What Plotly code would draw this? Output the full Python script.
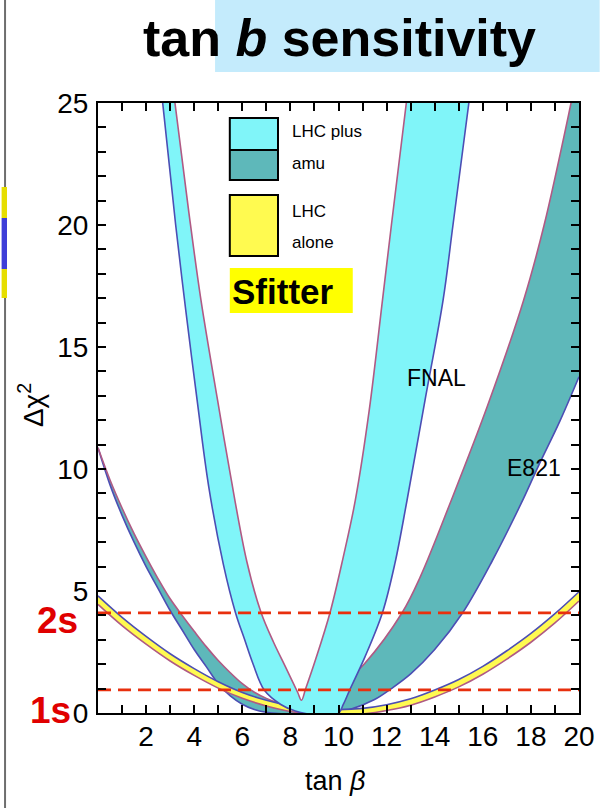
import plotly.graph_objects as go

# ---------------- data ----------------
X_TICKS = list(range(0, 21))
X_TICK_TEXT = ["", "", "2", "", "4", "", "6", "", "8", "", "10", "", "12", "", "14", "", "16", "", "18", "", "20"]
Y_TICKS = list(range(0, 26))
Y_TICK_TEXT = ["0", "", "", "", "", "5", "", "", "", "", "10", "", "", "", "", "15", "", "", "", "", "20", "", "", "", "", "25"]

# E821 band (teal): lower (blue) and upper (pink) edges
E821_LOW_X = [0.0, 0.5, 1.0, 1.5, 2.0, 2.5, 3.0, 3.5, 4.0, 4.5, 5.0, 5.5, 6.0, 6.5, 7.0, 7.5, 8.5, 9.5,
              10.5, 11.5, 12.2, 13.0, 14.0, 15.17, 16.4, 17.6, 18.3, 19.2, 20.0]
E821_LOW_Y = [10.87, 9.35, 8.1, 7.0, 6.0, 5.1, 4.2, 3.4, 2.6, 1.9, 1.2, 0.7, 0.36, 0.14, 0.03, -0.02, -0.05, -0.05,
              0.15, 0.55, 1.0, 1.6, 2.6, 4.12, 6.25, 8.6, 10.1, 11.95, 13.78]
E821_UP_X = [0.0, 0.5, 1.0, 1.5, 2.0, 2.5, 3.0, 3.5, 4.0, 4.5, 5.0, 5.5, 6.0, 6.5, 7.0, 7.5, 8.0, 8.5, 9.5,
             10.3, 11.08, 12.65, 13.4, 14.69, 16.2, 17.7, 18.55, 19.67, 20.0]
E821_UP_Y = [10.87, 9.55, 8.4, 7.35, 6.4, 5.5, 4.68, 4.0, 3.35, 2.72, 2.15, 1.65, 1.2, 0.85, 0.6, 0.42, 0.32, 0.3, 0.7,
             1.3, 2.02, 4.12, 5.58, 8.72, 12.6, 16.93, 20.0, 25.0, 26.6]

# LHC alone band (yellow): lower (pink) and upper (blue) edges
LHC_X = [0, 1, 2, 3, 4, 5, 6, 7, 8, 9, 10, 11, 12, 13, 14, 15, 16, 17, 18, 19, 20]
LHC_UP_Y = [4.80, 3.92, 3.14, 2.43, 1.82, 1.28, 0.84, 0.52, 0.29, 0.17, 0.14, 0.19, 0.34, 0.58, 0.94, 1.37, 1.91, 2.55, 3.26, 4.07, 4.97]
LHC_LOW_Y = [4.45, 3.58, 2.82, 2.13, 1.54, 1.02, 0.60, 0.29, 0.06, -0.06, -0.09, -0.04, 0.10, 0.32, 0.66, 1.07, 1.59, 2.21, 2.90, 3.69, 4.59]

# FNAL band (cyan): outer (blue) and inner (pink) edges
FNAL_OUT_X = [2.69, 3.23, 3.65, 4.12, 4.6, 5.21, 5.72, 6.1, 6.44, 6.92, 7.6, 8.2, 8.8, 9.4, 9.99, 10.2, 10.46,
              11.1, 11.83, 12.35, 12.85, 13.6, 14.35, 14.76, 15.42]
FNAL_OUT_Y = [25.0, 20.0, 16.5, 12.83, 9.3, 6.1, 4.1, 3.0, 2.03, 0.93, 0.35, 0.08, -0.05, -0.08, -0.02, 0.35, 0.93,
              2.3, 4.12, 6.15, 8.72, 12.83, 16.93, 20.0, 25.0]
FNAL_IN_X = [3.2, 3.78, 4.28, 4.97, 5.48, 6.19, 6.78, 7.3, 7.8, 8.3, 8.46, 8.63, 9.05, 9.65, 10.2, 10.7, 11.28, 11.83, 12.2, 12.82]
FNAL_IN_Y = [25.0, 20.5, 16.93, 12.83, 9.9, 6.2, 4.12, 2.9, 1.88, 0.85, 0.52, 0.98, 2.2, 4.12, 6.4, 8.72, 12.42, 16.93, 20.0, 25.0]

SIGMA_LEVELS = [0.95, 4.1]
SIGMA_LABELS = ["1s", "2s"]
LEGEND_LABELS = ["LHC plus", "amu", "LHC", "alone"]
BAND_LABELS = ["FNAL", "E821"]

# ---------------- styling / layout ----------------
FIG_W, FIG_H = 607, 808
L, R, T, B = 98, 587, 103, 713          # plot area in pixels
PW, PH = R - L, B - T

def px(x):
    return (x - L) / PW

def py(y):
    return (B - y) / PH

CYAN = "#80F5F9"
TEAL = "#5EB8BA"
YELLOW = "#FFFA50"
BLUE = "#4C4EB4"
PINK = "#B05A84"
RED = "#E8300E"
FONT = "Liberation Sans, Arial, sans-serif"

fig = go.Figure()

def band(xl, yl, xu, yu, fill, col_l, col_u, shape="spline"):
    fig.add_trace(go.Scatter(x=xl, y=yl, mode="lines", line=dict(color=col_l, width=1.6, shape=shape),
                             hoverinfo="skip", showlegend=False))
    fig.add_trace(go.Scatter(x=xu, y=yu, mode="lines", fill="tonexty", fillcolor=fill,
                             line=dict(color=col_u, width=1.6, shape=shape),
                             hoverinfo="skip", showlegend=False))

band(E821_LOW_X, E821_LOW_Y, E821_UP_X, E821_UP_Y, TEAL, BLUE, PINK)
band(LHC_X, LHC_LOW_Y, LHC_X, LHC_UP_Y, YELLOW, PINK, BLUE)
band(FNAL_OUT_X, FNAL_OUT_Y, FNAL_IN_X, FNAL_IN_Y, CYAN, BLUE, PINK)

for lvl in SIGMA_LEVELS:
    fig.add_trace(go.Scatter(x=[0, 20], y=[lvl, lvl], mode="lines",
                             line=dict(color=RED, width=2.8, dash="13px,7px"),
                             hoverinfo="skip", showlegend=False))

axis_common = dict(showline=True, linecolor="black", linewidth=2, mirror="allticks",
                   ticks="inside", ticklen=8, tickwidth=1.5, tickcolor="black",
                   showgrid=False, zeroline=False, tickmode="array",
                   tickfont=dict(family=FONT, size=28, color="black"))

fig.update_xaxes(range=[0, 20], tickvals=X_TICKS, ticktext=X_TICK_TEXT, ticklabelstandoff=-3, **axis_common)
fig.update_yaxes(range=[0, 25], tickvals=Y_TICKS, ticktext=Y_TICK_TEXT, ticklabelstandoff=2, **axis_common)

shapes = []
# title highlight
shapes.append(dict(type="rect", xref="paper", yref="paper", x0=px(217), x1=px(608), y0=py(72), y1=py(-1),
                   fillcolor="#C4EBFC", line=dict(width=0), layer="below"))
# left slide edge
shapes.append(dict(type="line", xref="paper", yref="paper", x0=px(3.5), x1=px(3.5), y0=py(809), y1=py(-1),
                   line=dict(color="#6E6E6E", width=2)))
for (y0, y1, c) in [(187, 218, "#E6DE00"), (218, 269, "#3E3ED8"), (269, 298, "#E6DE00")]:
    shapes.append(dict(type="rect", xref="paper", yref="paper", x0=px(0), x1=px(5.5), y0=py(y1), y1=py(y0),
                       fillcolor=c, line=dict(width=0)))
# legend swatches
shapes.append(dict(type="rect", xref="paper", yref="paper", x0=px(232), x1=px(281), y0=py(150), y1=py(118),
                   fillcolor=CYAN, line=dict(width=0)))
shapes.append(dict(type="rect", xref="paper", yref="paper", x0=px(232), x1=px(281), y0=py(180), y1=py(150),
                   fillcolor=TEAL, line=dict(width=0)))
shapes.append(dict(type="line", xref="paper", yref="paper", x0=px(232), x1=px(281), y0=py(150), y1=py(150),
                   line=dict(color="black", width=2)))
shapes.append(dict(type="rect", xref="paper", yref="paper", x0=px(232), x1=px(281), y0=py(180), y1=py(118),
                   fillcolor="rgba(0,0,0,0)", line=dict(color="black", width=2)))
shapes.append(dict(type="rect", xref="paper", yref="paper", x0=px(232), x1=px(281), y0=py(256), y1=py(195),
                   fillcolor=YELLOW, line=dict(color="black", width=2)))
shapes.append(dict(type="rect", xref="paper", yref="paper", x0=px(232), x1=px(357), y0=py(313), y1=py(268),
                   fillcolor="#FFFF00", line=dict(width=0)))

ann = []
ann.append(dict(text="<b>tan <i>b</i> sensitivity</b>", x=px(344), y=py(38), xref="paper", yref="paper",
                showarrow=False, xanchor="center", yanchor="middle",
                font=dict(family=FONT, size=52, color="black")))
for txt, yy in zip(LEGEND_LABELS, [132, 163, 211, 242]):
    ann.append(dict(text=txt, x=px(293), y=py(yy), xref="paper", yref="paper", showarrow=False,
                    xanchor="left", yanchor="middle", font=dict(family=FONT, size=17, color="black")))
ann.append(dict(text="<b>Sfitter</b>", x=px(232), y=py(291), xref="paper", yref="paper", showarrow=False,
                xanchor="left", yanchor="middle", font=dict(family=FONT, size=35, color="black")))
for txt, (xx, yy) in zip(BAND_LABELS, [(410, 378), (512, 468)]):
    ann.append(dict(text=txt, x=px(xx), y=py(yy), xref="paper", yref="paper", showarrow=False,
                    xanchor="left", yanchor="middle", font=dict(family=FONT, size=23, color="black")))
for txt, (xx, yy) in zip(SIGMA_LABELS, [(50, 710), (57, 620)]):
    ann.append(dict(text="<b>" + txt + "</b>", x=px(xx), y=py(yy), xref="paper", yref="paper", showarrow=False,
                    xanchor="center", yanchor="middle", font=dict(family=FONT, size=37, color="#E00000")))
ann.append(dict(text="tan <i>β</i>", x=px(339), y=py(781), xref="paper", yref="paper", showarrow=False,
                xanchor="center", yanchor="middle", font=dict(family=FONT, size=27, color="black")))
ann.append(dict(text="Δχ<sup>2</sup>", x=px(30), y=py(405), xref="paper", yref="paper", showarrow=False,
                textangle=-90, xanchor="center", yanchor="middle",
                font=dict(family=FONT, size=28, color="black")))

fig.update_layout(width=FIG_W, height=FIG_H, margin=dict(l=L, r=FIG_W - R, t=T, b=FIG_H - B),
                  paper_bgcolor="white", plot_bgcolor="white", showlegend=False,
                  shapes=shapes, annotations=ann)

fig.write_html("out.html")
